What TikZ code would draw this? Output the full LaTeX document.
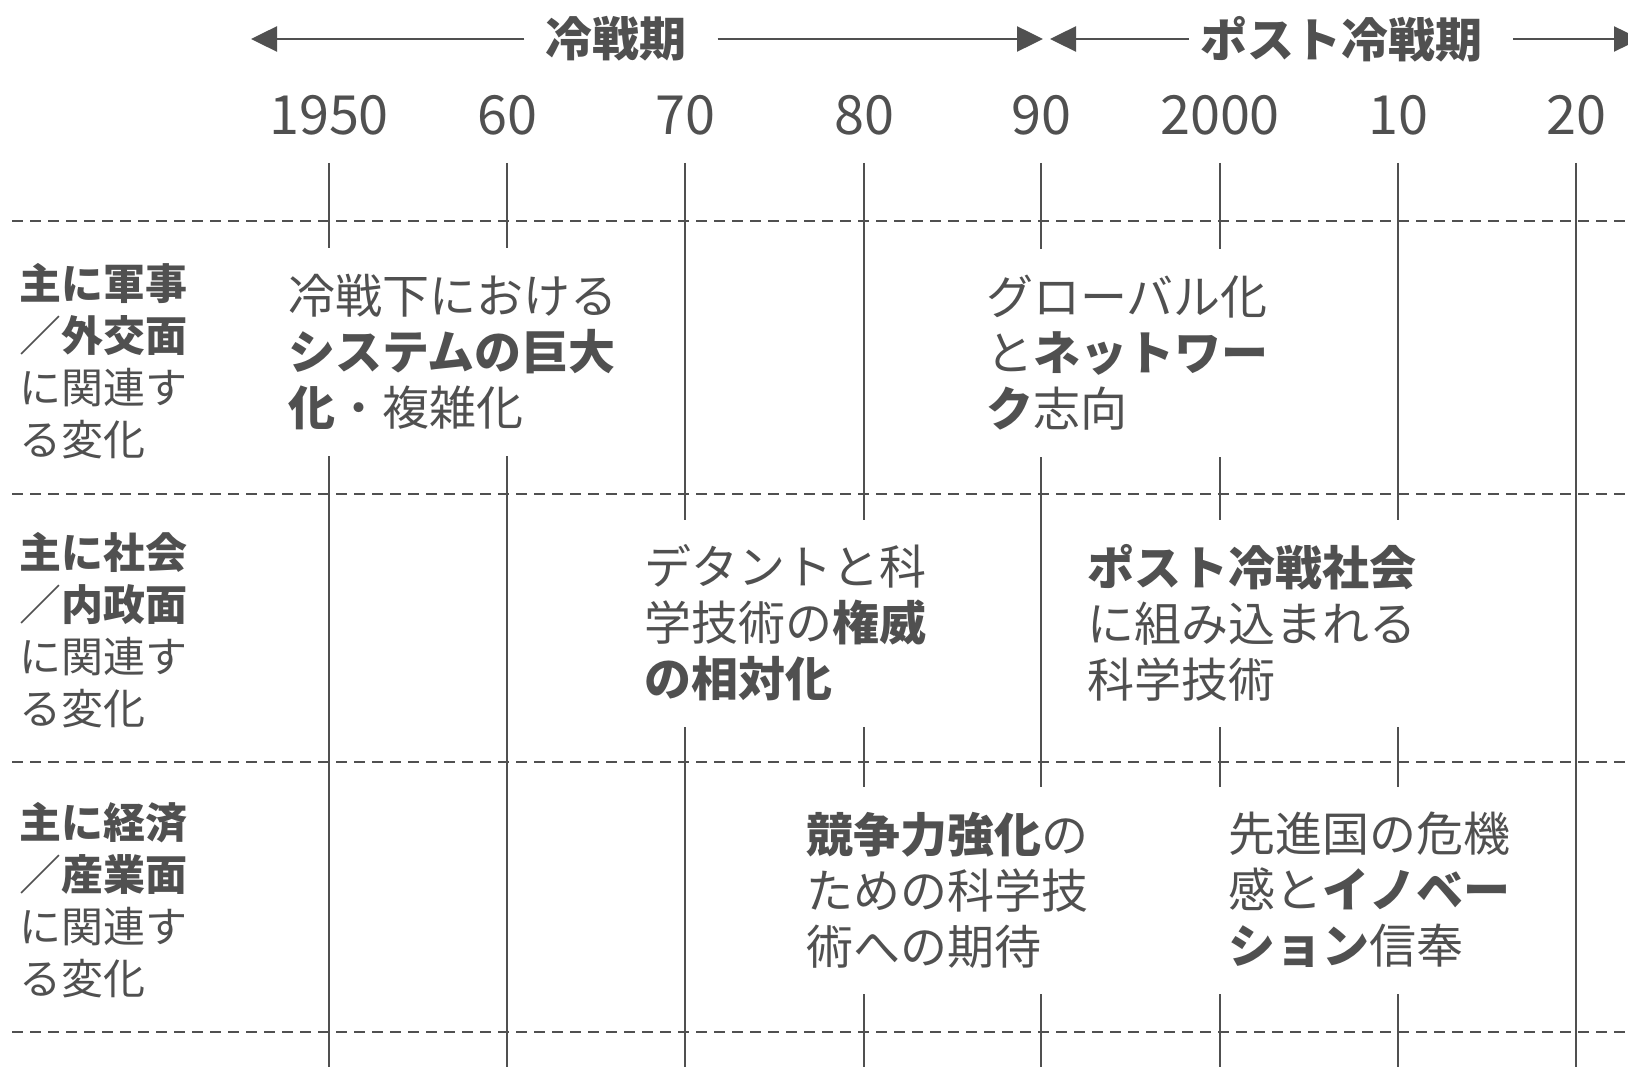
\documentclass[tikz,border=0pt]{standalone}
\usepackage{fontspec}
\setmainfont{Noto Sans CJK JP}
\usetikzlibrary{arrows.meta}
\definecolor{ink}{HTML}{505050}
\begin{document}
\begin{tikzpicture}[x=1pt,y=-1pt,
  every node/.style={text=ink},
  yearlbl/.style={font=\fontsize{54}{60}\selectfont, inner sep=0pt},
  headlbl/.style={font=\bfseries\fontsize{47}{50}\selectfont, inner sep=0pt},
  rowlbl/.style={font=\fontsize{42}{52}\selectfont, align=left, anchor=west, inner sep=0pt},
  blk/.style={font=\fontsize{47}{56}\selectfont, align=left, anchor=west, fill=white,
              inner xsep=12pt, inner ysep=0pt, minimum height=207pt},
  vline/.style={draw=ink, line width=2pt},
  dline/.style={draw=ink, line width=2.5pt, dash pattern=on 11pt off 7pt},
  period/.style={draw=ink, line width=2.5pt, -{Triangle[length=26pt,width=25pt]}}
]
\useasboundingbox (0,0) rectangle (1628,1067);

% dashed row separators
\foreach \n/\yy in {1/221,2/494,3/762,4/1032}{
  \coordinate (dL\n) at (12,\yy);
  \coordinate (dR\n) at (1628,\yy);
  \draw[dline] (dL\n) -- (dR\n);
}

% year labels and vertical lines
\foreach \nm/\xx/\lab in {a/329/1950,b/507/60,c/685/70,d/864/80,e/1041/90,f/1220/2000,g/1398/10,h/1576/20}{
  \node[yearlbl] (yr\nm) at (\xx,115) {\lab};
  \coordinate (vt\nm) at (\xx,163);
  \coordinate (vb\nm) at (\xx,1067);
  \draw[vline] (vt\nm) -- (vb\nm);
}

% period headers
\node[headlbl] (cw) at (616,39) {冷戦期};
\coordinate (cwL) at (251,39);
\coordinate (cwR) at (1043,39);
\draw[period] ([xshift=-21pt]cw.west) -- (cwL);
\draw[period] ([xshift=31pt]cw.east) -- (cwR);

\node[headlbl] (pcw) at (1341,39) {ポスト冷戦期};
\coordinate (pcwL) at (1050,39);
\coordinate (pcwR) at (1640,39);
\draw[period] ([xshift=-11pt]pcw.west) -- (pcwL);
\draw[period] ([xshift=31pt]pcw.east) -- (pcwR);

% row labels
\node[rowlbl] (r1) at (19,361) {\textbf{主に軍事}\\／\textbf{外交面}\\に関連す\\る変化};
\node[rowlbl] (r2) at (19,630) {\textbf{主に社会}\\／\textbf{内政面}\\に関連す\\る変化};
\node[rowlbl] (r3) at (19,900) {\textbf{主に経済}\\／\textbf{産業面}\\に関連す\\る変化};

% content blocks
\node[blk] (bA) at (276,352) {冷戦下における\\\textbf{システムの巨大}\\\textbf{化}・複雑化};
\node[blk] (bB) at (974,353) {グローバル化\\と\textbf{ネットワー}\\\textbf{ク}志向};
\node[blk] (bC) at (632,623) {デタントと科\\学技術の\textbf{権威}\\\textbf{の相対化}};
\node[blk] (bD) at (1075,623) {\textbf{ポスト冷戦社会}\\に組み込まれる\\科学技術};
\node[blk] (bE) at (794,890) {\textbf{競争力強化}の\\ための科学技\\術への期待};
\node[blk] (bF) at (1216,890) {先進国の危機\\感と\textbf{イノベー}\\\textbf{ション}信奉};
\end{tikzpicture}
\end{document}
